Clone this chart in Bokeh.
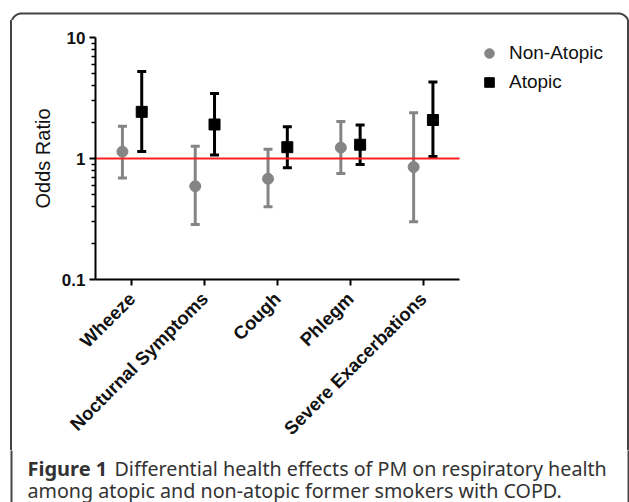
import math
import numpy as np
from bokeh.plotting import figure
from bokeh.layouts import column, row
from bokeh.models import (ColumnDataSource, Range1d, Whisker, TeeHead, Div,
                          Legend, LegendItem, FixedTicker, CustomJSTickFormatter, Label)
from bokeh.transform import dodge
from bokeh.embed import file_html
from bokeh.resources import INLINE

categories = ["Wheeze", "Nocturnal Symptoms", "Cough", "Phlegm", "Severe Exacerbations"]
non_atopic_or = [1.14, 0.59, 0.68, 1.23, 0.85]
non_atopic_lo = [0.69, 0.285, 0.40, 0.75, 0.30]
non_atopic_hi = [1.85, 1.26, 1.19, 2.02, 2.39]
atopic_or = [2.43, 1.91, 1.24, 1.30, 2.08]
atopic_lo = [1.14, 1.07, 0.84, 0.89, 1.04]
atopic_hi = [5.24, 3.44, 1.83, 1.89, 4.28]
reference_or = 1
y_ticks = [0.1, 1, 10]
y_minor = [m * d for d in (0.1, 1) for m in range(2, 10)]
caption_bold = "Figure 1"
caption_line1 = "Differential health effects of PM on respiratory health"
caption_line2 = "among atopic and non-atopic former smokers with COPD."

FONT = "Liberation Sans"
CAP_FONT = "Noto Sans"
GRAY = "#858585"
BORDER = "#444444"
TOTAL_W, TOTAL_H = 629, 502
TOP_H, MID_H = 20, 430
SIDE_W = 12
CHART_W = TOTAL_W - 2 * SIDE_W
FRAME_LEFT, FRAME_TOP, FRAME_H = 83, 17, 242
PX_PER_CAT = 72.8

# ---- rounded frame outline in page pixels (decoration) ----
BX0, BY0, BX1, BY1, RAD = 11, 13, 628, 540, 10
t = np.linspace(0, np.pi / 2, 12)
box_x = ([BX0] + list(BX0 + RAD - RAD * np.cos(t)) + list(BX1 - RAD + RAD * np.sin(t)) + [BX1])
box_y = ([BY1] + list(BY0 + RAD - RAD * np.sin(t)) + list(BY0 + RAD - RAD * np.cos(t)) + [BY1])


def strip(x0, y0, w, h):
    f = figure(width=w, height=h, x_range=Range1d(x0, x0 + w), y_range=Range1d(y0 + h, y0),
               output_backend="svg", toolbar_location=None, min_border=0,
               x_axis_location=None, y_axis_location=None)
    f.outline_line_color = None
    f.xgrid.visible = False
    f.ygrid.visible = False
    f.line(box_x, box_y, line_color=BORDER, line_width=2)
    return f


def side(offset):
    html = ('<div style="margin:0;padding:0;margin-left:%dpx;width:2px;height:%dpx;background:%s"></div>'
            % (offset, MID_H, BORDER))
    return Div(text=html, width=SIDE_W, height=MID_H, margin=0, styles={"overflow": "hidden"})


top = strip(0, 0, TOTAL_W, TOP_H)
cap = strip(0, TOP_H + MID_H, TOTAL_W, TOTAL_H - TOP_H - MID_H)
left = side(BX0 - 1)
right = side(BX1 - 1 - (TOTAL_W - SIDE_W))

# ---- chart ----
n = len(categories)
xpos = [i + 0.5 for i in range(n)]
src_na = ColumnDataSource(dict(x=xpos, v=non_atopic_or, lo=non_atopic_lo, hi=non_atopic_hi))
src_at = ColumnDataSource(dict(x=xpos, v=atopic_or, lo=atopic_lo, hi=atopic_hi))

x_end = (CHART_W - FRAME_LEFT) / PX_PER_CAT
p = figure(width=CHART_W, height=MID_H, x_range=Range1d(0, x_end),
           y_range=Range1d(0.1, 10), y_axis_type="log", output_backend="svg",
           toolbar_location=None, min_border_left=FRAME_LEFT, min_border_right=0,
           min_border_top=FRAME_TOP, min_border_bottom=MID_H - FRAME_TOP - FRAME_H)
p.outline_line_color = None
p.xgrid.visible = False
p.ygrid.visible = False

p.segment(x0=[0], x1=[n], y0=[reference_or], y1=[reference_or], line_color="#ff1f1f", line_width=2)

OFF_NA, OFF_AT = -0.13, 0.135
for src, off, col in ((src_na, OFF_NA, GRAY), (src_at, OFF_AT, "black")):
    w = Whisker(source=src, base=dodge("x", off), upper="hi", lower="lo",
                line_color=col, line_width=3,
                upper_head=TeeHead(size=9, line_color=col, line_width=3),
                lower_head=TeeHead(size=9, line_color=col, line_width=3))
    p.add_layout(w)

r_na = p.scatter(x=dodge("x", OFF_NA), y="v", source=src_na, marker="circle",
                 size=11, fill_color=GRAY, line_color=GRAY)
r_at = p.scatter(x=dodge("x", OFF_AT), y="v", source=src_at, marker="square",
                 size=11, fill_color="black", line_color="black")

legend = Legend(items=[LegendItem(label="Non-Atopic", renderers=[r_na]),
                       LegendItem(label="Atopic", renderers=[r_at])],
                location=(382, 185), padding=0, margin=0, spacing=5, glyph_width=24, glyph_height=24,
                label_height=24, label_standoff=8, border_line_color=None, background_fill_alpha=0,
                label_text_font=FONT, label_text_font_size="19px", label_text_color="#111111")
p.add_layout(legend)

ya = p.yaxis[0]
ya.ticker = FixedTicker(ticks=y_ticks, minor_ticks=y_minor)
ya.formatter = CustomJSTickFormatter(code="return tick.toString();")
ya.axis_label = "Odds Ratio"
ya.axis_label_text_font = FONT
ya.axis_label_text_font_size = "20px"
ya.axis_label_text_font_style = "normal"
ya.axis_label_text_color = "#111111"
ya.axis_label_standoff = 5
ya.major_label_text_font = FONT
ya.major_label_text_font_size = "17px"
ya.major_label_text_font_style = "bold"
ya.major_label_text_color = "#111111"
ya.major_label_standoff = 4

xa = p.xaxis[0]
xa.bounds = (0, n)
xa.ticker = FixedTicker(ticks=xpos, minor_ticks=[])
xa.formatter = CustomJSTickFormatter(args=dict(labels=categories),
                                     code="return labels[Math.round(tick - 0.5)];")
xa.major_label_orientation = math.pi / 4
xa.major_label_text_font = FONT
xa.major_label_text_font_size = "18.5px"
xa.major_label_text_font_style = "bold"
xa.major_label_text_color = "#111111"
xa.major_label_standoff = 10

for ax in (ya, xa):
    ax.axis_line_width = 2
    ax.axis_line_color = "black"
    ax.major_tick_line_width = 2
    ax.major_tick_out = 6
    ax.major_tick_in = 0
ya.minor_tick_out = 4
ya.minor_tick_in = 0
ya.minor_tick_line_width = 1.5
xa.minor_tick_line_color = None

# ---- caption ----
cap.add_layout(Label(x=27, y=468, text=caption_bold, text_font=CAP_FONT, text_font_style="bold",
                     text_font_size="20px", text_color="#333333", text_baseline="alphabetic"))
cap.add_layout(Label(x=114, y=468, text=caption_line1, text_font=CAP_FONT,
                     text_font_size="19.7px", text_color="#333333", text_baseline="alphabetic"))
cap.add_layout(Label(x=27, y=490, text=caption_line2, text_font=CAP_FONT,
                     text_font_size="19.7px", text_color="#333333", text_baseline="alphabetic"))

layout = column(top, row(left, p, right, spacing=0), cap, spacing=0)
open("out.html", "w").write(file_html(layout, INLINE))
